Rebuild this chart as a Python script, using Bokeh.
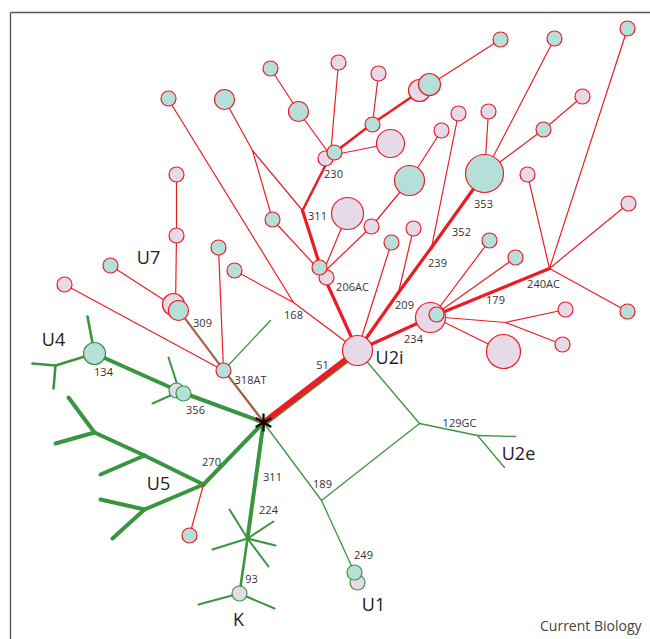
from bokeh.plotting import figure
from bokeh.models import Range1d, ColumnDataSource
from bokeh.core.properties import value
from bokeh.embed import file_html
from bokeh.resources import INLINE

# ---------------- data: network nodes (positions) ----------------
NODE_NAME = ["S", "U2i", "J189", "J129", "JU2e", "U2e_a", "U2e_b", "U1",
             "J318", "G318", "N309", "N356", "N134", "G134", "JU4", "U4a", "U4b",
             "G356a", "G356b", "J270", "JU5a", "JU5b", "U5a", "U5b", "U5c", "JU5c",
             "U5d", "U5e", "J224", "K", "Ks1", "Ks2", "Ks3", "Ks4", "Ks5", "Kt1", "Kt2",
             "T270", "J168", "T168", "T234", "N206", "J311", "N230", "N372", "N420",
             "T500", "P378", "P337", "P390", "T298", "T270b", "J252", "T224", "T272",
             "P347", "P371", "T409", "P441", "T391", "J209", "P413", "J239", "P458",
             "T353", "P488", "T554", "T543", "P582", "N234", "J240", "T627a", "P527",
             "P628", "T627b", "T489", "T515", "J505", "P565", "P562", "P503",
             "P176a", "P176b", "U7", "T110", "P64", "T218"]
NODE_X = [263, 357, 321, 419, 477, 515, 504, 354,
          223, 270, 178, 179, 94, 87, 55, 32, 53,
          168, 152, 203, 144, 94, 68, 55, 100, 144,
          100, 112, 247, 239, 229, 268, 212, 275, 273, 198, 274,
          189, 293, 168, 234, 322, 302, 330, 372, 425,
          500, 378, 338, 390, 298, 270, 252, 224, 272,
          347, 371, 409, 441, 391, 398, 413, 431, 458,
          484, 488, 554, 543, 582, 432, 549, 627, 527,
          628, 627, 489, 515, 505, 565, 562, 503,
          176, 176, 175, 110, 64, 218]
NODE_Y = [422, 350, 500, 423, 435, 436, 467, 572,
          370, 320, 310, 391, 353, 316, 365, 363, 388,
          357, 403, 484, 455, 432, 397, 443, 474, 509,
          499, 538, 538, 593, 509, 566, 549, 545, 521, 604, 608,
          535, 302, 99, 270, 273, 210, 155, 123, 87,
          39, 73, 62, 143, 111, 68, 150, 99, 219,
          213, 226, 180, 130, 242, 292, 228, 247, 113,
          173, 111, 38, 129, 96, 316, 268, 28, 174,
          203, 311, 240, 257, 322, 309, 344, 351,
          174, 235, 307, 265, 284, 247]

# ---------------- data: edges ----------------
GREEN_THICK = [("S", "N356"), ("N356", "N134"), ("S", "J270"), ("J270", "JU5a"),
               ("JU5a", "JU5b"), ("JU5b", "U5a"), ("JU5b", "U5b"), ("JU5a", "U5c"),
               ("J270", "JU5c"), ("JU5c", "U5d"), ("JU5c", "U5e"), ("S", "J224")]
GREEN_MED = [("J224", "K"), ("N134", "G134"), ("N134", "JU4"), ("JU4", "U4a"), ("JU4", "U4b")]
GREEN_SPIKE = [("N356", "G356a"), ("N356", "G356b"), ("J224", "Ks1"), ("J224", "Ks2"),
               ("J224", "Ks3"), ("J224", "Ks4"), ("J224", "Ks5"), ("K", "Kt1"), ("K", "Kt2")]
GREEN_THIN = [("S", "J189"), ("J189", "J129"), ("J189", "U1"), ("U2i", "J129"),
              ("J129", "JU2e"), ("JU2e", "U2e_a"), ("JU2e", "U2e_b"), ("J318", "G318")]
SHARED = [("S", "U2i"), ("S", "J318"), ("J318", "N309")]
RED_THICK = [("U2i", "N206"), ("N206", "J311"), ("U2i", "J209"), ("J209", "J239"),
             ("J239", "T353"), ("U2i", "N234"), ("N234", "J240")]
RED_MED = [("J311", "N230"), ("N230", "N372"), ("N372", "N420")]
RED_THIN = [("T168", "J168"), ("T234", "J168"), ("J168", "U2i"), ("T218", "J318"),
            ("P64", "J318"), ("P176a", "P176b"), ("P176b", "U7"), ("T110", "U7"),
            ("J270", "T270"), ("T272", "N206"), ("T272", "J252"), ("J252", "T224"),
            ("J252", "J311"), ("T298", "N230"), ("T298", "T270b"), ("N230", "P337"),
            ("N230", "P390"), ("N372", "P378"), ("N420", "T500"), ("N206", "P347"),
            ("N206", "P371"), ("P371", "T409"), ("T409", "P441"), ("U2i", "T391"),
            ("J209", "P413"), ("J239", "P458"), ("T353", "P488"), ("T353", "T554"),
            ("T353", "T543"), ("T543", "P582"), ("J240", "T627a"), ("J240", "P527"),
            ("J240", "P628"), ("J240", "T627b"), ("N234", "T489"), ("N234", "T515"),
            ("N234", "J505"), ("J505", "P565"), ("J505", "P562"), ("N234", "P503")]

# ---------------- data: haplotype circles ----------------
CIRC_X = [168, 224, 270, 298, 338, 378, 372, 419, 429, 390, 500, 325, 334, 272,
          326, 319, 347, 371, 409, 441, 391, 413, 458, 484, 488, 554, 543, 582,
          627, 527, 628, 627, 489, 515, 565, 562, 503, 430, 436, 357, 176, 176,
          218, 110, 234, 64, 173, 178, 223, 189, 176, 183, 94, 239, 357, 354]
CIRC_Y = [98, 99, 68, 111, 62, 73, 124, 90, 84, 143, 39, 158, 152, 219,
          277, 267, 213, 226, 180, 130, 242, 228, 113, 173, 111, 38, 129, 96,
          28, 174, 203, 311, 240, 257, 309, 344, 351, 317, 314, 350, 174, 235,
          247, 265, 270, 284, 304, 310, 370, 535, 390, 393, 353, 593, 582, 572]
CIRC_R = [7.5, 10, 7.5, 10, 7.5, 7.5, 7.5, 11, 11, 14, 7.5, 7.5, 7.5, 7.5,
          7.5, 7.5, 16, 7.5, 15, 7.5, 7.5, 7.5, 7.5, 19, 7.5, 7.5, 7.5, 7.5,
          7.5, 7.5, 7.5, 7.5, 7.5, 7.5, 7.5, 7.5, 17, 15, 7.5, 15, 7.5, 7.5,
          7.5, 7.5, 7.5, 7.5, 11, 10, 7.5, 7.5, 7.5, 7.5, 11, 7.5, 7.5, 7.5]
CIRC_KIND = ["T", "T", "T", "T", "P", "P", "T", "P", "T", "P", "T", "P", "T", "T",
             "P", "T", "P", "P", "T", "P", "T", "P", "P", "T", "P", "T", "T", "P",
             "T", "P", "P", "T", "T", "T", "P", "P", "P", "P", "T", "P", "P", "P",
             "T", "T", "T", "P", "P", "T", "T", "T", "P", "T", "T", "P", "P", "T"]
CIRC_NET = ["R"] * 50 + ["G"] * 6

# ---------------- data: labels ----------------
BIG_LABELS = ["U7", "U4", "U5", "K", "U1", "U2e", "U2i"]
BIG_X = [148, 53, 158, 238, 373, 518, 389]
BIG_Y = [256, 338, 482, 618, 603, 452, 356]
MUT_LABELS = ["230", "311", "206AC", "168", "309", "318AT", "51", "134", "356", "270",
              "311", "224", "93", "189", "249", "129GC", "209", "234", "239", "352",
              "353", "179", "240AC"]
MUT_X = [333, 317, 352, 293, 202, 250, 322, 103, 195, 211, 272, 268, 251, 322, 363,
         459, 404, 413, 437, 461, 483, 495, 543]
MUT_Y = [173, 215, 286, 314, 322, 379, 364, 371, 409, 461, 476, 509, 578, 483, 554,
         422, 304, 338, 262, 231, 203, 299, 283]
ROOT = "S"

# ---------------- styles ----------------
RED = "#ec1c24"
GREEN = "#3b9440"
TEAL = "#b5e0da"
PINK = "#e6d9e8"
FONT = "Open Sans"

pos = {n: (x, y) for n, x, y in zip(NODE_NAME, NODE_X, NODE_Y)}

p = figure(width=650, height=639, x_range=Range1d(0, 650), y_range=Range1d(639, 0),
           output_backend="svg", toolbar_location=None, min_border=0,
           x_axis_type=None, y_axis_type=None)
p.grid.visible = False
p.outline_line_color = None
p.background_fill_color = "white"
p.border_fill_color = "white"

# frame (top and left rules)
p.segment(x0=[10, 10], y0=[12, 12], x1=[660, 10], y1=[12, 660],
          line_color="#555555", line_width=1.4)


def draw(edges, color, width, cap="round", off=(0.0, 0.0)):
    x0 = [pos[a][0] + off[0] for a, b in edges]
    y0 = [pos[a][1] + off[1] for a, b in edges]
    x1 = [pos[b][0] + off[0] for a, b in edges]
    y1 = [pos[b][1] + off[1] for a, b in edges]
    p.segment(x0=x0, y0=y0, x1=x1, y1=y1, line_color=color, line_width=width,
              line_cap=cap)


draw(GREEN_THIN, GREEN, 1.3)
draw(GREEN_SPIKE, GREEN, 2.0)
draw(GREEN_MED, GREEN, 2.6)
draw(GREEN_THICK, GREEN, 4.0)
draw(SHARED[:1], GREEN, 1.6, off=(1.9, 2.5))
draw(SHARED[1:], GREEN, 1.2, off=(1.3, 0.0))
draw(RED_THIN, RED, 1.2)
draw(SHARED[1:], RED, 1.2)
draw(RED_MED, RED, 2.5)
draw(RED_THICK, RED, 3.2)
draw(SHARED[:1], RED, 5.5)

# circles
src = ColumnDataSource(dict(
    x=CIRC_X, y=CIRC_Y, size=[2 * r for r in CIRC_R],
    fill=[TEAL if k == "T" else PINK for k in CIRC_KIND],
    line=[RED if n == "R" else GREEN for n in CIRC_NET]))
p.scatter(x="x", y="y", size="size", source=src, fill_color="fill",
          line_color="line", line_width=1.2, marker="circle")

# root asterisk
rx, ry = pos[ROOT]
p.ray(x=[rx] * 6, y=[ry] * 6, length=9, length_units="screen",
      angle=[30, 90, 150, 210, 270, 330], angle_units="deg",
      line_color="black", line_width=2.2)

# labels
p.text(x=BIG_X, y=BIG_Y, text=BIG_LABELS, text_font=value(FONT),
       text_font_size="18px", text_color="#222222", text_align="center",
       text_baseline="middle")
p.text(x=MUT_X, y=MUT_Y, text=MUT_LABELS, text_font=value(FONT),
       text_font_size="11px", text_color="#333333", text_align="center",
       text_baseline="middle")
p.text(x=[641], y=[625], text=["Current Biology"], text_font=value(FONT),
       text_font_size="14px", text_color="#444444", text_align="right",
       text_baseline="middle")

open("out.html", "w").write(file_html(p, INLINE))
